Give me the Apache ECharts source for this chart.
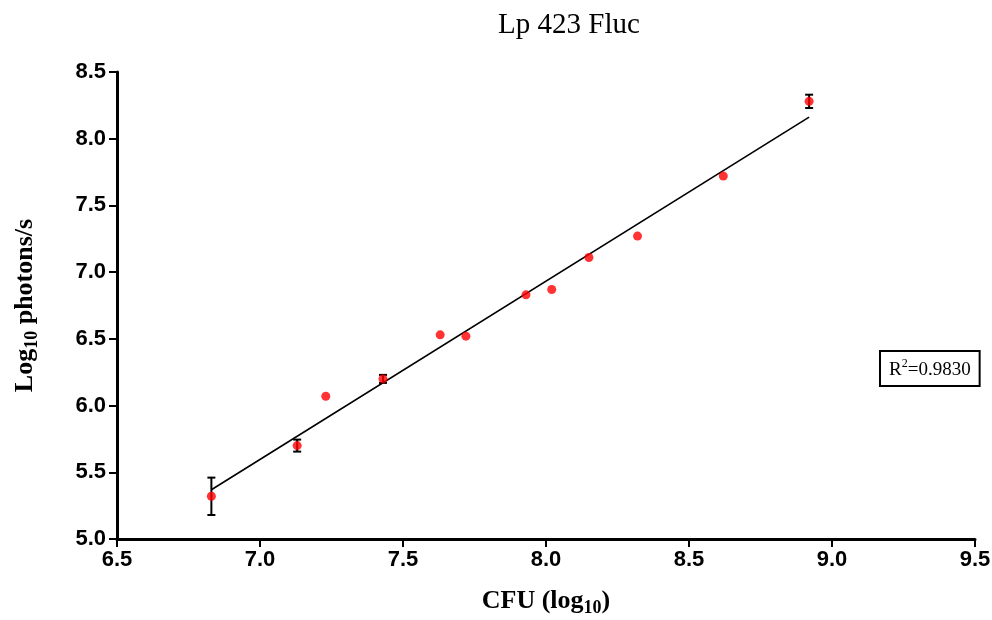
<!DOCTYPE html>
<html>
<head>
<meta charset="utf-8">
<title>Lp 423 Fluc</title>
<script src="https://cdn.jsdelivr.net/npm/echarts@6/dist/echarts.min.js"></script>
<style>
  html, body { margin: 0; padding: 0; background: #fff; }
  #chart { width: 992px; height: 620px; }
</style>
</head>
<body>
<div id="chart"></div>
<script>
// log10 CFU vs log10 photons/s
var cfuLog    = [6.83, 7.13, 7.23, 7.43, 7.63, 7.72, 7.93, 8.02, 8.15, 8.32, 8.62, 8.92];
var photonLog = [5.32, 5.70, 6.07, 6.20, 6.53, 6.52, 6.83, 6.87, 7.11, 7.27, 7.72, 8.28];
var photonErr = [0.14, 0.045, 0, 0.03, 0, 0, 0, 0, 0, 0, 0, 0.05];
var xTicks = [6.5, 7.0, 7.5, 8.0, 8.5, 9.0, 9.5];
var yTicks = [5.0, 5.5, 6.0, 6.5, 7.0, 7.5, 8.0, 8.5];
var rSquared = '0.9830';

// least squares fit of the points
function fitLine(xs, ys) {
  var n = xs.length, mx = 0, my = 0, sxy = 0, sxx = 0;
  for (var i = 0; i < n; i++) { mx += xs[i]; my += ys[i]; }
  mx /= n; my /= n;
  for (var i = 0; i < n; i++) {
    sxy += (xs[i] - mx) * (ys[i] - my);
    sxx += (xs[i] - mx) * (xs[i] - mx);
  }
  var b = sxy / sxx, a = my - b * mx;
  var x0 = Math.min.apply(null, xs), x1 = Math.max.apply(null, xs);
  return [[x0, a + b * x0], [x1, a + b * x1]];
}

var points = cfuLog.map(function (x, i) { return [x, photonLog[i]]; });
var bars = [];
cfuLog.forEach(function (x, i) {
  if (photonErr[i] > 0) bars.push([x, photonLog[i], photonErr[i]]);
});

// axis name with a lowered "10"
var nameRich = {
  m: { fontFamily: 'Liberation Serif', fontWeight: 'bold', fontSize: 26, color: '#000', lineHeight: 32, verticalAlign: 'middle' },
  s: { fontFamily: 'Liberation Serif', fontWeight: 'bold', fontSize: 18, color: '#000', lineHeight: 16, verticalAlign: 'bottom' }
};

var chart = echarts.init(document.getElementById('chart'));
var option = {
  animation: false,
  backgroundColor: '#fff',
  title: {
    text: 'Lp 423 Fluc',
    left: 564, top: 6,
    textAlign: 'center',
    textStyle: { fontFamily: 'Liberation Serif', fontWeight: 'normal', fontSize: 29, color: '#000' }
  },
  grid: { left: 117, right: 17, top: 72, bottom: 81, outerBoundsMode: 'none' },
  xAxis: {
    type: 'value',
    min: xTicks[0], max: xTicks[xTicks.length - 1], interval: 0.5,
    name: '{m|CFU (log}{s|10}{m|)}',
    nameLocation: 'middle', nameGap: 46,
    nameTextStyle: { rich: nameRich },
    splitLine: { show: false },
    axisLine: { lineStyle: { color: '#000', width: 3 } },
    axisTick: { length: 8, lineStyle: { color: '#000', width: 2 } },
    axisLabel: {
      margin: 10,
      fontFamily: 'Liberation Sans', fontWeight: 'bold', fontSize: 22, color: '#000',
      formatter: function (v) { return v.toFixed(1); }
    }
  },
  yAxis: {
    type: 'value',
    min: yTicks[0], max: yTicks[yTicks.length - 1], interval: 0.5,
    name: '{m|Log}{s|10}{m| photons/s}',
    nameLocation: 'middle', nameGap: 76,
    nameTextStyle: { rich: nameRich },
    splitLine: { show: false },
    axisLine: { lineStyle: { color: '#000', width: 3 } },
    axisTick: { length: 8, lineStyle: { color: '#000', width: 2 } },
    axisLabel: {
      margin: 11,
      fontFamily: 'Liberation Sans', fontWeight: 'bold', fontSize: 22, color: '#000',
      formatter: function (v) { return v.toFixed(1); }
    }
  },
  graphic: [{
    type: 'text',
    left: 879, top: 350,
    z: 100,
    style: {
      text: '{r|R}{p|2}{r|=' + rSquared + '}',
      rich: {
        r: { fontFamily: 'Liberation Serif', fontSize: 19, fill: '#000', lineHeight: 22, verticalAlign: 'bottom' },
        p: { fontFamily: 'Liberation Serif', fontSize: 12, fill: '#000', lineHeight: 22, verticalAlign: 'top' }
      },
      backgroundColor: '#fff',
      borderColor: '#000',
      borderWidth: 2,
      padding: [6, 8, 5, 8]
    }
  }],
  series: [
    {
      name: 'fit',
      type: 'line',
      data: fitLine(cfuLog, photonLog),
      symbol: 'none',
      lineStyle: { color: '#000', width: 1.6 },
      z: 2
    },
    {
      name: 'sem',
      type: 'custom',
      data: bars,
      z: 3,
      renderItem: function (params, api) {
        var x = api.value(0), y = api.value(1), e = api.value(2);
        var top = api.coord([x, y + e]);
        var bot = api.coord([x, y - e]);
        var cap = 4;
        var st = { stroke: '#000', lineWidth: 2 };
        return {
          type: 'group',
          children: [
            { type: 'line', shape: { x1: top[0], y1: top[1], x2: bot[0], y2: bot[1] }, style: st },
            { type: 'line', shape: { x1: top[0] - cap, y1: top[1], x2: top[0] + cap, y2: top[1] }, style: st },
            { type: 'line', shape: { x1: bot[0] - cap, y1: bot[1], x2: bot[0] + cap, y2: bot[1] }, style: st }
          ]
        };
      }
    },
    {
      name: 'data',
      type: 'scatter',
      data: points,
      symbol: 'circle',
      symbolSize: 9,
      itemStyle: { color: '#ff0000' },
      z: 4
    }
  ]
};
chart.setOption(option);
</script>
</body>
</html>
